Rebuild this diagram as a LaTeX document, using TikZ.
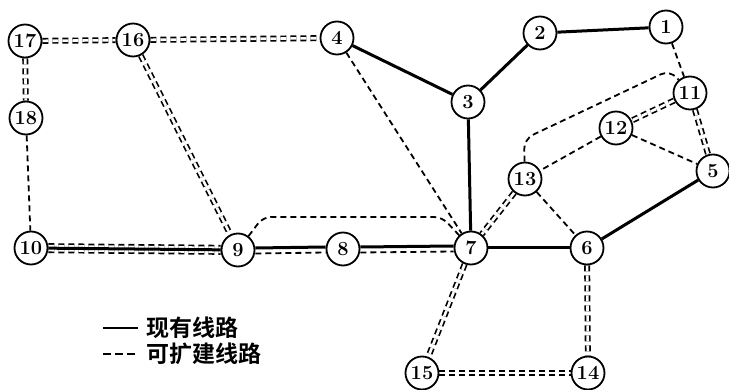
\documentclass[tikz,border=0pt]{standalone}
\usepackage{fontspec}
\usetikzlibrary{backgrounds}
\newfontfamily\cjk{Noto Sans CJK SC Bold}
\begin{document}
\begin{tikzpicture}[x=1pt,y=-1pt,
  stn/.style={circle,draw,line width=1.8pt,minimum size=33pt,inner sep=0pt,fill=white,
    font=\fontsize{20}{20}\selectfont\bfseries},
  solidline/.style={line width=3pt},
  dashline/.style={line width=1.8pt,dash pattern=on 6pt off 4pt},
  ddline/.style={line width=1.7pt,double,double distance=2.6pt,dash pattern=on 6pt off 4pt},
  tdline/.style={line width=1.7pt,double,double distance=6.6pt,dash pattern=on 6pt off 4pt},
  legtext/.style={anchor=west,inner sep=0pt,font=\cjk\fontsize{23}{23}\selectfont}]
\useasboundingbox (0,0) rectangle (729,390);
% nodes
\node[stn] (n17) at (25,41) {17};
\node[stn] (n16) at (133,40) {16};
\node[stn] (n4) at (337,38) {4};
\node[stn] (n2) at (540,33) {2};
\node[stn] (n1) at (666,27) {1};
\node[stn] (n11) at (690,93) {11};
\node[stn] (n3) at (468,102) {3};
\node[stn] (n12) at (616,128) {12};
\node[stn] (n5) at (713,171) {5};
\node[stn] (n13) at (525,179) {13};
\node[stn] (n18) at (26,118) {18};
\node[stn] (n10) at (31,248) {10};
\node[stn] (n9) at (238,250) {9};
\node[stn] (n8) at (343,249) {8};
\node[stn] (n7) at (471,248) {7};
\node[stn] (n6) at (587,248) {6};
\node[stn] (n15) at (422,373) {15};
\node[stn] (n14) at (588,373) {14};
\coordinate (c1) at (263,217);
\coordinate (c2) at (442,217);
\coordinate (c3) at (524,139);
\coordinate (c4) at (670,70);
% edges
\begin{pgfonlayer}{background}
\draw[solidline] (n4) -- (n3);
\draw[solidline] (n3) -- (n2);
\draw[solidline] (n2) -- (n1);
\draw[solidline] (n3) -- (n7);
\draw[solidline] (n7) -- (n6);
\draw[solidline] (n6) -- (n5);
\draw[tdline] (n10) -- (n9);
\draw[solidline] (n10) -- (n9);
\draw[solidline] ([yshift=2pt]n9.east) -- ([yshift=2pt]n8.west);
\draw[dashline] ([yshift=-3.5pt]n9.east) -- ([yshift=-3.5pt]n8.west);
\draw[solidline] ([yshift=2pt]n8.east) -- ([yshift=2pt]n7.west);
\draw[dashline] ([yshift=-3.5pt]n8.east) -- ([yshift=-3.5pt]n7.west);
\draw[ddline] (n17) -- (n16);
\draw[ddline] (n16) -- (n4);
\draw[ddline] (n17) -- (n18);
\draw[ddline] (n16) -- (n9);
\draw[ddline] (n11) -- (n5);
\draw[ddline] (n11) -- (n12);
\draw[ddline] (n13) -- (n7);
\draw[ddline] (n7) -- (n15);
\draw[ddline] (n6) -- (n14);
\draw[ddline] (n15) -- (n14);
\draw[dashline] (n4) -- (n7);
\draw[dashline] (n18) -- (n10);
\draw[dashline] (n1) -- (n11);
\draw[dashline] (n12) -- (n13);
\draw[dashline] (n12) -- (n5);
\draw[dashline] (n13) -- (n6);
\draw[dashline,rounded corners=8pt] (n9) -- (c1) -- (c2) -- (n7);
\draw[dashline,rounded corners=10pt] (n13) -- (c3) -- (c4) -- (n11);
\end{pgfonlayer}
% legend
\coordinate (la) at (103,328);
\coordinate (lb) at (138,328);
\coordinate (lc) at (103,354);
\coordinate (ld) at (138,354);
\draw[line width=2.4pt] (la) -- (lb);
\draw[line width=2.4pt,dash pattern=on 8pt off 4pt] (lc) -- (ld);
\node[legtext] (t1) at (146,328) {现有线路};
\node[legtext] (t2) at (146,354) {可扩建线路};
\end{tikzpicture}
\end{document}
